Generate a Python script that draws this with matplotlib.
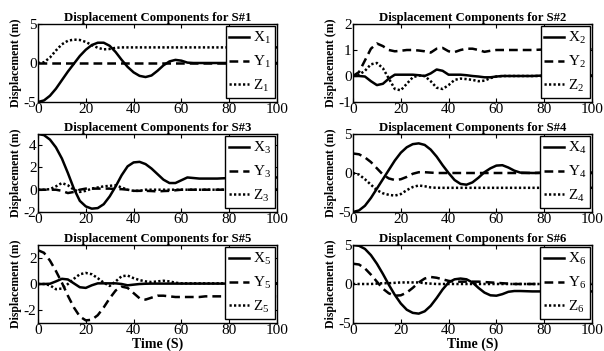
import numpy as np
import matplotlib
matplotlib.use("Agg")
import matplotlib.pyplot as plt

# --- fonts ---
plt.rcParams["font.family"] = ["Liberation Serif", "DejaVu Serif"]
plt.rcParams["mathtext.fontset"] = "custom"
plt.rcParams["mathtext.rm"] = "Liberation Serif"
plt.rcParams["mathtext.it"] = "Liberation Serif:italic"
plt.rcParams["axes.unicode_minus"] = False

# --- data ---
t = [0, 2.5, 5, 7.5, 10, 12.5, 15, 17.5, 20, 22.5, 25, 27.5, 30, 32.5, 35,
     37.5, 40, 42.5, 45, 47.5, 50, 52.5, 55, 57.5, 60, 62.5, 65, 67.5, 70,
     75, 80, 85, 90, 95, 100]

x1 = [-5.0, -4.8, -4.2, -3.3, -2.2, -1.1, -0.1, 0.9, 1.7, 2.3, 2.6, 2.6, 2.2, 1.4, 0.4,
      -0.5, -1.2, -1.65, -1.8, -1.6, -1.0, -0.3, 0.2, 0.4, 0.3, 0.05, 0.0, 0.0, 0.0,
      0.0, 0.0, 0.0, 0.0, 0.0, 0.0]
y1 = [0.0, 0.0, 0.0, 0.0, 0.0, 0.0, 0.0, 0.0, 0.0, 0.0, 0.0, 0.0, 0.0, 0.0, 0.0,
      0.0, 0.0, 0.0, 0.0, 0.0, 0.0, 0.0, 0.0, 0.0, 0.0, 0.0, 0.0, 0.0, 0.0,
      0.0, 0.0, 0.0, 0.0, 0.0, 0.0]
z1 = [0.0, 0.1, 0.7, 1.6, 2.4, 2.85, 3.0, 2.95, 2.7, 2.3, 1.95, 1.75, 1.8, 1.95, 2.0,
      2.0, 2.0, 2.0, 2.0, 2.0, 2.0, 2.0, 2.0, 2.0, 2.0, 2.0, 2.0, 2.0, 2.0,
      2.0, 2.0, 2.0, 2.0, 2.0, 2.0]

x2 = [0.0, 0.0, -0.02, -0.2, -0.35, -0.3, -0.1, 0.05, 0.05, 0.05, 0.05, 0.03, 0.0, 0.1, 0.25,
      0.2, 0.05, 0.05, 0.05, 0.03, 0.0, -0.02, -0.05, -0.05, -0.02, 0.0, 0.0, 0.0, 0.0,
      0.0, 0.02, 0.02, 0.02, 0.02, 0.02]
y2 = [0.0, 0.15, 0.6, 1.05, 1.25, 1.15, 1.0, 0.95, 0.97, 1.0, 1.0, 0.98, 0.95, 0.9, 1.05,
      1.08, 0.95, 0.92, 1.0, 1.05, 1.05, 1.0, 0.93, 0.97, 1.0, 1.0, 1.0, 1.0, 1.0,
      1.0, 1.02, 1.03, 1.03, 1.03, 1.03]
z2 = [0.0, 0.05, 0.2, 0.45, 0.5, 0.3, -0.1, -0.5, -0.55, -0.3, -0.05, 0.02, 0.0, -0.2, -0.45,
      -0.5, -0.35, -0.15, -0.1, -0.12, -0.15, -0.2, -0.18, -0.08, -0.02, 0.0, 0.0, 0.0, 0.0,
      0.0, 0.0, 0.0, 0.0, 0.0, 0.0]

x3 = [5.0, 4.9, 4.5, 3.8, 2.8, 1.5, 0.1, -1.0, -1.5, -1.7, -1.65, -1.3, -0.6, 0.3, 1.3,
      2.1, 2.45, 2.5, 2.3, 1.9, 1.4, 0.9, 0.6, 0.6, 0.85, 1.1, 1.05, 1.0, 1.0,
      1.0, 1.05, 1.1, 1.1, 1.1, 1.1]
y3 = [0.0, 0.0, 0.0, 0.0, -0.1, -0.3, -0.2, 0.0, 0.1, 0.1, 0.1, 0.1, 0.1, 0.05, 0.05,
      0.0, -0.1, -0.1, -0.1, -0.12, -0.15, -0.12, -0.1, -0.05, 0.0, 0.0, 0.0, 0.0, 0.0,
      0.0, 0.0, 0.0, 0.0, 0.0, 0.0]
z3 = [0.0, 0.0, 0.05, 0.3, 0.6, 0.4, 0.0, -0.2, -0.1, 0.1, 0.2, 0.3, 0.35, 0.4, 0.2,
      0.0, -0.1, -0.1, 0.0, 0.0, 0.0, 0.0, 0.0, 0.0, 0.0, 0.0, 0.0, 0.0, 0.0,
      0.0, 0.0, 0.0, 0.0, 0.0, 0.0]

x4 = [-5.0, -4.8, -4.2, -3.2, -2.0, -0.8, 0.4, 1.6, 2.6, 3.3, 3.7, 3.8, 3.6, 3.0, 2.1,
      1.0, 0.0, -0.9, -1.4, -1.5, -1.2, -0.6, 0.1, 0.6, 0.95, 1.0, 0.7, 0.3, 0.05,
      0.0, 0.0, 0.0, 0.0, 0.0, 0.0]
y4 = [2.5, 2.4, 2.0, 1.4, 0.6, -0.2, -0.7, -0.9, -0.8, -0.5, -0.1, 0.1, 0.1, 0.05, 0.0,
      0.0, 0.0, 0.0, 0.0, 0.0, 0.0, 0.0, 0.0, 0.0, 0.0, 0.0, 0.0, 0.0, 0.0,
      0.0, 0.05, 0.05, 0.05, 0.05, 0.05]
z4 = [0.0, -0.2, -0.8, -1.5, -2.2, -2.6, -2.8, -2.9, -2.7, -2.2, -1.8, -1.6, -1.7, -1.85, -1.9,
      -1.9, -1.9, -1.9, -1.9, -1.9, -1.9, -1.9, -1.9, -1.9, -1.9, -1.9, -1.9, -1.9, -1.9,
      -1.9, -1.9, -1.9, -1.9, -1.9, -1.9]

x5 = [0.0, 0.0, 0.02, 0.2, 0.4, 0.35, 0.05, -0.25, -0.3, -0.1, 0.05, 0.05, 0.05, 0.05, 0.0,
      -0.1, -0.05, 0.0, 0.02, 0.03, 0.03, 0.03, 0.03, 0.03, 0.03, 0.03, 0.03, 0.03, 0.03,
      0.03, 0.03, 0.03, 0.03, 0.03, 0.03]
y5 = [2.6, 2.4, 1.8, 1.0, 0.1, -0.9, -1.8, -2.5, -2.8, -2.75, -2.4, -1.8, -1.1, -0.5, -0.2,
      -0.3, -0.7, -1.1, -1.2, -1.05, -0.9, -0.9, -0.95, -1.0, -1.0, -1.0, -1.0, -1.0, -0.95,
      -0.95, -0.95, -0.95, -0.95, -0.95, -0.95]
z5 = [0.0, 0.0, -0.1, -0.4, -0.35, 0.0, 0.4, 0.75, 0.85, 0.75, 0.45, 0.1, -0.15, 0.2, 0.6,
      0.65, 0.45, 0.3, 0.2, 0.15, 0.2, 0.25, 0.2, 0.1, 0.05, 0.05, 0.05, 0.05, 0.05,
      0.05, 0.05, 0.05, 0.05, 0.05, 0.05]

x6 = [5.0, 4.9, 4.5, 3.7, 2.6, 1.3, -0.1, -1.4, -2.5, -3.3, -3.7, -3.8, -3.5, -2.8, -1.8,
      -0.7, 0.2, 0.6, 0.7, 0.6, 0.2, -0.5, -1.1, -1.45, -1.5, -1.3, -1.0, -0.9, -0.9,
      -0.95, -0.95, -0.95, -0.95, -0.95, -0.95]
y6 = [2.6, 2.5, 2.0, 1.2, 0.3, -0.6, -1.2, -1.5, -1.45, -1.1, -0.5, 0.2, 0.7, 0.9, 0.8,
      0.6, 0.4, 0.3, 0.3, 0.3, 0.3, 0.3, 0.25, 0.2, 0.15, 0.1, 0.05, 0.0, 0.0,
      0.0, 0.0, 0.0, 0.0, 0.0, 0.0]
z6 = [0.0, 0.0, 0.0, 0.0, 0.05, 0.1, 0.1, 0.15, 0.2, 0.2, 0.2, 0.2, 0.1, 0.05, 0.0,
      0.0, 0.0, 0.0, 0.0, 0.0, 0.0, 0.0, 0.0, 0.0, 0.0, 0.0, 0.0, 0.0, 0.0,
      0.0, 0.0, 0.0, 0.0, 0.0, 0.0]

series = [(x1, y1, z1), (x2, y2, z2), (x3, y3, z3),
          (x4, y4, z4), (x5, y5, z5), (x6, y6, z6)]
ylims = [(-5, 5), (-1, 2), (-2, 5), (-5, 5), (-3, 3), (-5, 5)]
yticks = [[-5, 0, 5], [-1, 0, 1, 2], [-2, 0, 2, 4], [-5, 0, 5], [-2, 0, 2], [-5, 0, 5]]
xticks = [0, 20, 40, 60, 80, 100]

# --- layout (pixel positions in a 604x351 figure) ---
W, H = 604, 351
col_left = [38, 353]
ax_w = 239
row_top = [24, 134, 245]
ax_h = 78

fig = plt.figure(figsize=(W / 100, H / 100), dpi=100)
fig.patch.set_facecolor("white")

for i, (xs, ys, zs) in enumerate(series):
    r, c = divmod(i, 2)
    l = col_left[c] / W
    b = 1 - (row_top[r] + ax_h) / H
    ax = fig.add_axes([l, b, ax_w / W, ax_h / H])
    n = i + 1
    ax.plot(t, xs, color="black", lw=1.8, label="X$_{%d}$" % n)
    ax.plot(t, ys, color="black", lw=1.8, dashes=(3.5, 2.0), label="Y$_{%d}$" % n)
    ax.plot(t, zs, color="black", lw=1.8, dashes=(0.9, 0.9), label="Z$_{%d}$" % n)
    ax.set_xlim(0, 100)
    ax.set_ylim(*ylims[i])
    ax.set_xticks(xticks)
    ax.set_yticks(yticks[i])
    ax.tick_params(direction="in", top=True, right=True, length=3, width=0.8,
                   labelsize=11, pad=1)
    for sp in ax.spines.values():
        sp.set_linewidth(1.0)
    ax.set_title("Displacement Components for S#%d" % n, fontsize=9.2,
                 fontweight="bold", pad=2.5)
    ax.set_ylabel("Displacement (m)", fontsize=8.5, fontweight="bold", labelpad=1)
    if r == 2:
        ax.set_xlabel("Time (S)", fontsize=10, fontweight="bold", labelpad=0)
    leg = ax.legend(loc="upper right", fontsize=11, frameon=True, fancybox=False,
                    edgecolor="black", framealpha=1, handlelength=1.3,
                    handletextpad=0.25, labelspacing=0.5, borderpad=0.25,
                    borderaxespad=0.15)
    leg.get_frame().set_linewidth(1.0)

fig.savefig("out.png", dpi=100)
